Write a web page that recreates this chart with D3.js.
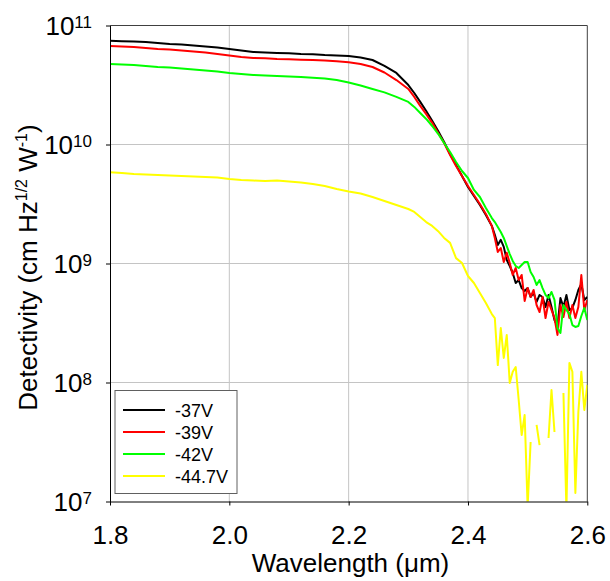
<!DOCTYPE html>
<html>
<head>
<meta charset="utf-8">
<script src="https://cdn.jsdelivr.net/npm/d3@7"></script>
<style>
  html, body { margin: 0; padding: 0; background: #fff; }
  svg { display: block; font-family: "Liberation Sans", Arial, sans-serif; }
</style>
</head>
<body>
<svg id="chart" width="610" height="581"></svg>
<script>
// Wavelength grid (µm) shared by all bias curves
const wavelength = [
  1.80, 1.82, 1.84, 1.86, 1.88, 1.90, 1.92, 1.94, 1.96, 1.98,
  2.00, 2.02, 2.04, 2.06, 2.08, 2.10, 2.12, 2.14, 2.16, 2.18,
  2.20, 2.22, 2.24, 2.26, 2.28,
  2.30, 2.31, 2.32, 2.33, 2.34, 2.35, 2.36, 2.37, 2.38, 2.39,
  2.40, 2.41, 2.42, 2.43, 2.44,
  2.445, 2.450, 2.455, 2.460, 2.465, 2.470, 2.475, 2.480, 2.485, 2.490,
  2.495, 2.500, 2.505, 2.510, 2.515, 2.520, 2.525, 2.530, 2.535, 2.540,
  2.545, 2.550, 2.555, 2.560, 2.565, 2.570, 2.575, 2.580, 2.585, 2.590,
  2.595, 2.600
];

// Specific detectivity (cm Hz^1/2 W^-1) at each bias
const d37V = [
  7.45e10, 7.38e10, 7.34e10, 7.27e10, 7.13e10, 6.99e10, 6.92e10, 6.79e10, 6.66e10, 6.53e10,
  6.35e10, 6.16e10, 5.99e10, 5.93e10, 5.87e10, 5.84e10, 5.76e10, 5.73e10, 5.65e10, 5.60e10,
  5.54e10, 5.38e10, 5.13e10, 4.57e10, 3.99e10,
  3.16e10, 2.71e10, 2.28e10, 1.91e10, 1.58e10, 1.30e10, 1.05e10, 8.32e9, 6.72e9, 5.44e9,
  4.40e9, 3.69e9, 3.10e9, 2.56e9, 2.07e9,
  1.74e9, 1.43e9, 1.58e9, 1.38e9, 1.07e9, 9.53e8, 8.32e8, 6.86e8, 7.26e8, 6.22e8,
  5.87e8, 6.22e8, 5.23e8, 5.65e8, 4.75e8, 5.44e8, 5.23e8, 4.31e8, 5.44e8, 4.31e8,
  3.35e8, 2.98e8, 5.13e8, 4.31e8, 5.44e8, 4.07e8, 4.23e8, 4.94e8, 5.99e8, 6.73e8,
  4.94e8, 5.23e8
];
const d39V = [
  6.73e10, 6.66e10, 6.60e10, 6.47e10, 6.35e10, 6.29e10, 6.16e10, 6.05e10, 5.93e10, 5.76e10,
  5.60e10, 5.43e10, 5.33e10, 5.30e10, 5.23e10, 5.20e10, 5.16e10, 5.13e10, 5.08e10, 5.00e10,
  4.91e10, 4.75e10, 4.48e10, 4.03e10, 3.48e10,
  2.93e10, 2.51e10, 2.11e10, 1.80e10, 1.52e10, 1.25e10, 1.03e10, 8.16e9, 6.60e9, 5.44e9,
  4.48e9, 3.76e9, 3.16e9, 2.61e9, 2.07e9,
  1.64e9, 1.25e9, 1.35e9, 1.03e9, 1.23e9, 1.01e9, 8.01e8, 9.17e8, 7.26e8, 8.01e8,
  4.84e8, 6.22e8, 5.23e8, 5.99e8, 4.48e8, 3.91e8, 5.23e8, 3.48e8, 4.75e8, 4.07e8,
  3.48e8, 2.51e8, 4.48e8, 3.55e8, 4.75e8, 3.48e8, 4.48e8, 3.48e8, 4.31e8, 8.01e8,
  4.07e8, 4.94e8
];
const d42V = [
  4.75e10, 4.70e10, 4.66e10, 4.57e10, 4.48e10, 4.44e10, 4.35e10, 4.27e10, 4.19e10, 4.11e10,
  3.99e10, 3.91e10, 3.84e10, 3.80e10, 3.76e10, 3.73e10, 3.69e10, 3.64e10, 3.59e10, 3.48e10,
  3.32e10, 3.13e10, 2.93e10, 2.74e10, 2.51e10,
  2.28e10, 2.07e10, 1.84e10, 1.64e10, 1.43e10, 1.23e10, 1.03e10, 8.65e9, 7.13e9, 5.99e9,
  5.23e9, 4.15e9, 3.62e9, 2.93e9, 2.41e9,
  2.23e9, 2.03e9, 1.84e9, 1.64e9, 1.40e9, 1.20e9, 1.05e9, 9.53e8, 9.17e8, 9.71e8,
  1.03e9, 1.03e9, 8.48e8, 7.70e8, 6.60e8, 7.26e8, 6.22e8, 5.44e8, 5.13e8, 5.76e8,
  4.94e8, 2.87e8, 2.61e8, 4.48e8, 4.07e8, 3.76e8, 3.04e8, 2.93e8, 2.98e8, 3.62e8,
  4.23e8, 3.35e8
];
// null marks readings that were not positive (no point on a log axis)
const d447V = [
  5.84e9, 5.76e9, 5.65e9, 5.60e9, 5.54e9, 5.49e9, 5.44e9, 5.38e9, 5.33e9, 5.28e9,
  5.13e9, 5.03e9, 4.98e9, 4.94e9, 4.98e9, 4.89e9, 4.80e9, 4.66e9, 4.48e9, 4.23e9,
  4.03e9, 3.88e9, 3.62e9, 3.35e9, 3.10e9,
  2.87e9, 2.71e9, 2.46e9, 2.23e9, 2.07e9, 1.87e9, 1.64e9, 1.49e9, 1.11e9, 1.01e9,
  7.85e8, 6.86e8, 5.65e8, 4.66e8, 3.76e8,
  3.48e8, 1.40e8, 2.87e8, 1.61e8, 2.51e8, 9.90e7, 1.23e8, 1.35e8, 7.13e7, 3.62e7,
  5.33e7, 9.0e6, 3.16e7, null, 4.40e7, 2.98e7, null, null, 3.42e7, 8.65e7,
  3.84e7, null, null, 8.16e7, 8.5e6, 1.46e8, 1.23e8, 1.18e7, 5.65e7, 1.23e8,
  5.87e7, 9.53e7
];

const seriesNames = ["-37V", "-39V", "-42V", "-44.7V"];
const seriesValues = [d37V, d39V, d42V, d447V];
const seriesColors = ["#000000", "#ff0000", "#00ff00", "#ffff00"];

const xTicks = [1.8, 2.0, 2.2, 2.4, 2.6];
const yTickExponents = [7, 8, 9, 10, 11];

const svg = d3.select("#chart");
const plot = { left: 110, right: 587.3, top: 25.5, bottom: 501.5 };

const x = d3.scaleLinear().domain([1.8, 2.6]).range([plot.left, plot.right]);
const y = d3.scaleLog().domain([1e7, 1e11]).range([plot.bottom, plot.top]);

svg.append("defs").append("clipPath").attr("id", "plot-clip")
  .append("rect")
  .attr("x", plot.left).attr("y", plot.top)
  .attr("width", plot.right - plot.left).attr("height", plot.bottom - plot.top);

// grid lines
const grid = svg.append("g").attr("stroke", "#c4c4c4").attr("stroke-width", 1);
grid.selectAll("line.vx").data(xTicks.slice(1, -1)).join("line")
  .attr("x1", d => x(d)).attr("x2", d => x(d))
  .attr("y1", plot.top).attr("y2", plot.bottom);
grid.selectAll("line.hy").data(yTickExponents.slice(1, -1)).join("line")
  .attr("x1", plot.left).attr("x2", plot.right)
  .attr("y1", d => y(Math.pow(10, d))).attr("y2", d => y(Math.pow(10, d)));

// frame (top and right)
svg.append("path")
  .attr("d", `M${plot.left},${plot.top}H${plot.right}V${plot.bottom}`)
  .attr("fill", "none").attr("stroke", "#404040").attr("stroke-width", 1);

// curves
const line = d3.line()
  .defined(d => d[1] != null && d[1] > 0)
  .x(d => x(d[0]))
  .y(d => y(d[1]));

const curves = svg.append("g").attr("clip-path", "url(#plot-clip)");
seriesValues.forEach((vals, i) => {
  curves.append("path")
    .datum(wavelength.map((w, k) => [w, vals[k]]))
    .attr("fill", "none")
    .attr("stroke", seriesColors[i])
    .attr("stroke-width", 2)
    .attr("stroke-linejoin", "round")
    .attr("d", line);
});

// x axis
const xAxis = svg.append("g")
  .attr("transform", `translate(0,${plot.bottom})`)
  .call(d3.axisBottom(x).tickValues(xTicks).tickSize(4).tickSizeOuter(0).tickFormat(d3.format(".1f")));
xAxis.select(".domain").attr("stroke", "#000");
xAxis.selectAll(".tick line").attr("stroke", "#000");
xAxis.selectAll(".tick text")
  .attr("font-size", 26).attr("font-family", "Liberation Sans, Arial, sans-serif")
  .attr("fill", "#000").attr("dy", null).attr("y", 42);

// y axis
const yAxis = svg.append("g")
  .attr("transform", `translate(${plot.left},0)`)
  .call(d3.axisLeft(y).tickValues(yTickExponents.map(e => Math.pow(10, e))).tickSize(4).tickSizeOuter(0).tickFormat(""));
yAxis.select(".domain").attr("stroke", "#000");
yAxis.selectAll(".tick line").attr("stroke", "#000");

const yLabels = svg.append("g").attr("font-size", 26).attr("fill", "#000").attr("text-anchor", "end");
yTickExponents.forEach(e => {
  const t = yLabels.append("text")
    .attr("x", 92)
    .attr("y", y(Math.pow(10, e)) + 9);
  t.append("tspan").text("10");
  t.append("tspan").attr("font-size", 17).attr("dy", -7).text(String(e));
});

// axis titles
svg.append("text")
  .attr("x", 350.5).attr("y", 572)
  .attr("text-anchor", "middle").attr("font-size", 26).attr("fill", "#000")
  .text("Wavelength (\u03bcm)");

const yTitle = svg.append("text")
  .attr("transform", "translate(37,267.5) rotate(-90)")
  .attr("text-anchor", "middle").attr("font-size", 26).attr("fill", "#000");
yTitle.append("tspan").text("Detectivity (cm Hz");
yTitle.append("tspan").attr("font-size", 16).attr("dy", -10).text("1/2");
yTitle.append("tspan").attr("dy", 10).text(" W");
yTitle.append("tspan").attr("font-size", 16).attr("dy", -10).text("-1");
yTitle.append("tspan").attr("dy", 10).text(")");

// legend
const legend = svg.append("g");
legend.append("rect")
  .attr("x", 115).attr("y", 390.5).attr("width", 122).attr("height", 103)
  .attr("fill", "#fff").attr("stroke", "#606060").attr("stroke-width", 1);
seriesNames.forEach((name, i) => {
  const ly = 410 + i * 22;
  legend.append("line")
    .attr("x1", 123).attr("x2", 165).attr("y1", ly).attr("y2", ly)
    .attr("stroke", seriesColors[i]).attr("stroke-width", 2);
  legend.append("text")
    .attr("x", 175).attr("y", ly + 7)
    .attr("font-size", 18).attr("fill", "#000")
    .text(name);
});
</script>
</body>
</html>
